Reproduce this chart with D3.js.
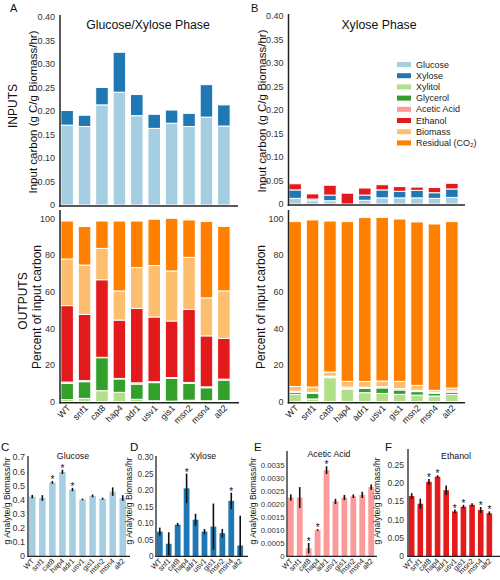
<!DOCTYPE html>
<html><head><meta charset="utf-8">
<script src="https://cdn.jsdelivr.net/npm/d3@7"></script>
<style>body{margin:0;background:#fff;} svg{display:block;font-family:"Liberation Sans",Arial,Helvetica,sans-serif;}</style>
</head><body><svg id="c" width="500" height="580"></svg>
<script>
const strains = ["WT","snf1","cat8","hap4","adr1","usv1","gis1","msn2","msn4","alt2"];
// INPUTS (g C / g biomass / hr)
const gxGlucose = [0.170,0.167,0.213,0.240,0.190,0.163,0.174,0.167,0.187,0.168];
const gxXylose  = [0.031,0.024,0.037,0.085,0.045,0.030,0.028,0.028,0.069,0.045];
const xpGlucose = [0.012,0.007,0.007,0.000,0.008,0.013,0.013,0.013,0.012,0.014];
const xpXylose  = [0.018,0.0035,0.012,0.000,0.011,0.017,0.014,0.016,0.012,0.018];
const xpEthanol = [0.013,0.011,0.021,0.023,0.015,0.011,0.010,0.007,0.011,0.012];
// OUTPUTS (% of input carbon) glucose/xylose phase
const gxXylitol  = [1.2,1.8,6.0,5.1,1.3,0.5,0.3,0.8,0.5,0.6];
const gxGlycerol = [8.8,9.1,18.0,7.3,8.3,9.9,12.4,9.2,7.1,11.2];
const gxAcetic   = [0.7,0.6,0.2,0.3,0.7,0.5,0.5,0.5,0.5,0.5];
const gxEthanol  = [41.7,36.1,42.3,31.8,40.6,35.3,30.8,39.9,27.8,22.2];
const gxBiomass  = [25.4,26.9,17.1,15.9,22.2,28.0,27.3,28.3,20.7,25.9];
const gxResidual = [20.7,21.0,14.9,38.1,25.4,25.3,28.7,20.4,41.7,35.2];
// OUTPUTS xylose phase
const xpXylitol  = [4.0,1.5,13.1,6.9,4.9,4.5,4.0,3.6,3.1,4.0];
const xpGlycerol = [1.1,3.0,0.3,0.3,2.3,3.0,2.4,1.9,1.5,1.2];
const xpAcetic   = [0.6,0.6,0.5,0.8,0.7,0.7,0.7,0.7,0.6,0.7];
const xpEthanolOut = [0,0,0,0,0,0,0,0,0,0];
const xpBiomass  = [2.6,2.9,2.3,3.1,3.1,3.1,4.0,2.7,1.0,1.5];
const xpResidual = [89.9,91.1,82.3,87.1,89.4,89.2,88.5,89.1,90.7,90.8];
// Rates (g analyte / g biomass / hr)
const rateGlucose = [0.42,0.41,0.52,0.595,0.47,0.40,0.425,0.405,0.455,0.41];
const errGlucose  = [0.012,0.02,0.01,0.015,0.012,0.006,0.01,0.007,0.03,0.02];
const starGlucose = [0,0,1,1,1,0,0,0,0,0];
const rateXylose = [0.074,0.037,0.095,0.205,0.110,0.074,0.089,0.069,0.167,0.032];
const errXylose  = [0.012,0.035,0.005,0.045,0.018,0.008,0.07,0.013,0.025,0.09];
const starXylose = [0,0,0,1,0,0,0,0,1,0];
const rateAcetic = [0.00225,0.00225,0.0003,0.00100,0.0033,0.0021,0.00225,0.0023,0.00235,0.00265];
const errAcetic  = [0.00012,0.0004,0.0002,0.00003,0.00015,0.0001,0.0001,0.00007,0.00012,0.0001];
const starAcetic = [0,0,1,1,1,0,0,0,0,0];
const rateEthanol = [0.164,0.143,0.203,0.217,0.18,0.122,0.135,0.14,0.126,0.117];
const errEthanol  = [0.008,0.014,0.008,0.004,0.013,0.005,0.005,0.004,0.008,0.005];
const starEthanol = [0,0,1,1,0,1,1,0,1,1];
// Legend
const legendLabels = ["Glucose","Xylose","Xylitol","Glycerol","Acetic Acid","Ethanol","Biomass","Residual (CO\u2082)"];
const legendColors = ["#a6cee3","#1f78b4","#b2df8a","#33a02c","#fb9a99","#e31a1c","#fdbf6f","#ff7f00"];
const inTicks = [0,0.05,0.10,0.15,0.20,0.25,0.30,0.35,0.40];
const outTicks = [0,20,40,60,80,100];

const svg = d3.select("#c");
const AX = "#222";

function yAxis(g, y, x, ticks, fmt, fs, pad) {
  const a = g.append("g").attr("transform", `translate(${x},0)`)
    .call(d3.axisLeft(y).tickValues(ticks).tickFormat(fmt).tickSize(0).tickPadding(pad == null ? 5 : pad));
  a.select(".domain").remove();
  a.selectAll("text").attr("fill", "#333").style("font-size", fs + "px").style("font-family", "inherit");
}
function line(g, x1, y1, x2, y2, w) {
  g.append("line").attr("x1", x1).attr("y1", y1).attr("x2", x2).attr("y2", y2)
    .attr("stroke", AX).attr("stroke-width", w || 1.5);
}
function xLabels(g, x, y0, fs, dx, dy) {
  const a = g.append("g").attr("transform", `translate(0,${y0})`)
    .call(d3.axisBottom(x).tickSize(0).tickPadding(0));
  a.select(".domain").remove();
  a.selectAll("text").attr("y", 0).attr("dy", 0).attr("x", 0)
    .attr("text-anchor", "end").attr("fill", "#222")
    .style("font-size", fs + "px").style("font-family", "inherit")
    .attr("transform", `translate(${dx},${dy}) rotate(-45)`);
}
function vText(txt, x, y, fs, fill) {
  svg.append("text").attr("transform", `translate(${x},${y}) rotate(-90)`)
    .attr("text-anchor", "middle").attr("dominant-baseline", "central")
    .style("font-size", fs + "px").attr("fill", fill || "#111").text(txt);
}
function hText(txt, x, y, fs, anchor) {
  svg.append("text").attr("x", x).attr("y", y).attr("text-anchor", anchor || "middle")
    .style("font-size", fs + "px").attr("fill", "#111").text(txt);
}

function stacked(opt) {
  const g = svg.append("g");
  const x = d3.scaleBand().domain(strains).range(opt.xr).paddingInner(0.28).paddingOuter(0.05);
  const y = d3.scaleLinear().domain(opt.yd).range(opt.yr);
  const rows = strains.map((s, i) => {
    const r = {strain: s};
    opt.keys.forEach((k, j) => r[k] = opt.series[j][i]);
    return r;
  });
  const st = d3.stack().keys(opt.keys)(rows);
  st.forEach((layer, j) => {
    g.append("g").attr("fill", opt.colors[j]).selectAll("rect").data(layer.filter(d => d[1] - d[0] > 0)).join("rect")
      .attr("x", d => x(d.data.strain)).attr("width", x.bandwidth())
      .attr("y", d => y(d[1])).attr("height", d => Math.max(0, y(d[0]) - y(d[1])))
      .attr("stroke", "#fff").attr("stroke-width", 1);
  });
  yAxis(g, y, opt.axisX, opt.ticks, opt.fmt, 9);
  line(g, opt.axisX, opt.axTop, opt.axisX, opt.axBot);
  line(g, opt.axisX - 0.75, opt.baseY, opt.xEnd, opt.baseY);
  if (opt.labels) xLabels(g, x, opt.baseY, 9, 4, 6);
}

const fmtIn = d => d === 0 ? "0" : d3.format(".2f")(d);
const fmtOut = d => d3.format("d")(d);
const inCols = ["#a6cee3", "#1f78b4", "#e31a1c"];
const outCols = ["#b2df8a", "#33a02c", "#fb9a99", "#e31a1c", "#fdbf6f", "#ff7f00"];
const outKeys = ["xylitol", "glycerol", "acetic", "ethanol", "biomass", "residual"];

stacked({xr: [60, 231], yd: [0, 0.4], yr: [205, 17], keys: ["glucose", "xylose"], series: [gxGlucose, gxXylose],
  colors: inCols, axisX: 60, axTop: 15, axBot: 207, baseY: 206, xEnd: 238, ticks: inTicks, fmt: fmtIn});
stacked({xr: [288, 459], yd: [0, 0.4], yr: [204, 16], keys: ["glucose", "xylose", "ethanol"], series: [xpGlucose, xpXylose, xpEthanol],
  colors: inCols, axisX: 288.5, axTop: 14, axBot: 206, baseY: 205, xEnd: 465, ticks: inTicks, fmt: fmtIn});
stacked({xr: [60, 231], yd: [0, 100], yr: [401.7, 218.3], keys: outKeys,
  series: [gxXylitol, gxGlycerol, gxAcetic, gxEthanol, gxBiomass, gxResidual],
  colors: outCols, axisX: 60, axTop: 210, axBot: 403.5, baseY: 402.7, xEnd: 239, ticks: outTicks, fmt: fmtOut, labels: true});
stacked({xr: [288, 459], yd: [0, 100], yr: [401.7, 218.3], keys: outKeys,
  series: [xpXylitol, xpGlycerol, xpAcetic, xpEthanolOut, xpBiomass, xpResidual],
  colors: outCols, axisX: 288.5, axTop: 210, axBot: 403.5, baseY: 402.7, xEnd: 465, ticks: outTicks, fmt: fmtOut, labels: true});

// titles & labels
hText("A", 10, 12, 11, "start");
hText("B", 251, 12, 11, "start");
hText("Glucose/Xylose Phase", 148, 29, 12.3);
hText("Xylose Phase", 379, 29, 12.3);
vText("INPUTS", 13, 106, 12);
vText("Input carbon (g C/g Biomass/hr)", 33, 112, 11.5);
vText("Input carbon (g C/g Biomass/hr)", 262, 111, 11.5);
vText("OUTPUTS", 23, 301, 12);
vText("Percent of input carbon", 37, 307, 12);
vText("Percent of input carbon", 261, 307, 12);

// legend
const lg = svg.append("g");
legendLabels.forEach((l, i) => {
  const yy = 64.5 + i * 11.2;
  lg.append("rect").attr("x", 397).attr("y", yy - 2.5).attr("width", 14).attr("height", 5).attr("fill", legendColors[i]);
  lg.append("text").attr("x", 416).attr("y", yy).attr("dominant-baseline", "central")
    .style("font-size", "9px").attr("fill", "#222").text(l);
});

// small panels
function small(opt) {
  const g = svg.append("g");
  const x = d3.scaleBand().domain(strains).range(opt.xr).paddingInner(0.35).paddingOuter(0.1);
  const y = d3.scaleLinear().domain([0, opt.max]).range([556, opt.top]);
  const rows = strains.map((s, i) => ({s, v: opt.vals[i], e: opt.errs[i], star: opt.stars[i]}));
  g.selectAll("rect.b").data(rows).join("rect").attr("class", "b")
    .attr("x", d => x(d.s)).attr("width", x.bandwidth())
    .attr("y", d => y(d.v)).attr("height", d => y(0) - y(d.v)).attr("fill", opt.color);
  const cx = d => x(d.s) + x.bandwidth() / 2;
  g.selectAll("line.e").data(rows).join("line").attr("class", "e")
    .attr("x1", cx).attr("x2", cx)
    .attr("y1", d => y(Math.max(0, d.v - d.e))).attr("y2", d => y(d.v + d.e))
    .attr("stroke", "#111").attr("stroke-width", 1.6);
  g.selectAll("text.s").data(rows.filter(d => d.star)).join("text").attr("class", "s")
    .attr("x", cx).attr("y", d => y(d.v + d.e) + 2).attr("text-anchor", "middle")
    .style("font-size", "10px").attr("fill", "#111").text("*");
  yAxis(g, y, opt.axisX, opt.ticks, opt.fmt, opt.fs, opt.pad);
  line(g, opt.axisX, y(opt.max) - 1, opt.axisX, 557, 1.3);
  line(g, opt.axisX - 0.65, 556.3, opt.xEnd, 556.3, 1.3);
  xLabels(g, x, 556, 7.5, 2.5, 5.5);
  hText(opt.title, opt.titleX, opt.titleY || 459, 8.8);
  hText(opt.letter, opt.letterX, 451, 11.5, "start");
  vText("g Analyte/g Biomass/hr", opt.ylabX, 501, 8.5);
}
small({xr: [28, 127], max: 0.7, top: 457, vals: rateGlucose, errs: errGlucose, stars: starGlucose, color: "#a6cee3",
  ticks: [0, 0.1, 0.2, 0.3, 0.4, 0.5, 0.6, 0.7], fmt: d => d === 0 ? "0" : d3.format(".1f")(d), fs: 9, pad: 3,
  axisX: 28, xEnd: 130, title: "Glucose", titleX: 73, letter: "C", letterX: 1, ylabX: 7});
small({xr: [156, 244], max: 0.30, top: 457, vals: rateXylose, errs: errXylose, stars: starXylose, color: "#1f78b4",
  ticks: [0, 0.05, 0.10, 0.15, 0.20, 0.25, 0.30], fmt: fmtIn, fs: 8.2, pad: 2.5,
  axisX: 156, xEnd: 248, title: "Xylose", titleX: 203, letter: "D", letterX: 130, ylabX: 129});
small({xr: [287, 375], max: 0.004, top: 452, vals: rateAcetic, errs: errAcetic, stars: starAcetic, color: "#fb9a99",
  ticks: [0, 0.0005, 0.001, 0.0015, 0.002, 0.0025, 0.003, 0.0035], fmt: d => d === 0 ? "0" : d3.format(".4f")(d), fs: 7.8, pad: 2.5,
  axisX: 287, xEnd: 377, title: "Acetic Acid", titleX: 329, titleY: 457, letter: "E", letterX: 254, ylabX: 253});
small({xr: [408, 493], max: 0.29, top: 450, vals: rateEthanol, errs: errEthanol, stars: starEthanol, color: "#e31a1c",
  ticks: [0, 0.05, 0.10, 0.15, 0.20, 0.25], fmt: fmtIn, fs: 8.5, pad: 4,
  axisX: 408, xEnd: 500, title: "Ethanol", titleX: 456, letter: "F", letterX: 385, ylabX: 377});
</script></body></html>
